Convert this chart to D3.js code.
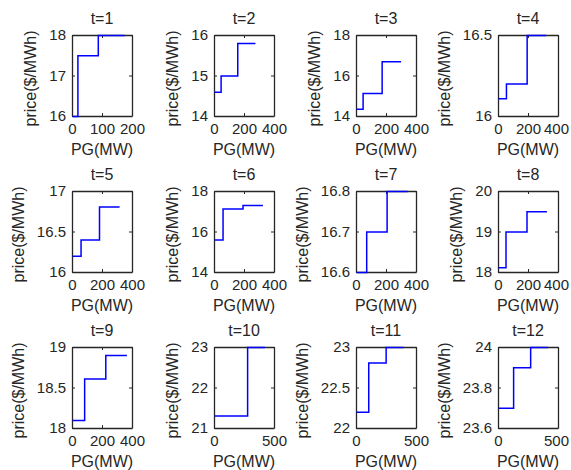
<!DOCTYPE html>
<meta charset="utf-8">
<style>
body { margin: 0; background: #fff; }
text { font-family: "Liberation Sans", Arial, sans-serif; fill: #262626; }
.tick text { font-size: 15px; }
.title, .xlab, .ylab { font-size: 16px; text-anchor: middle; }
.domain, .tick line { stroke: #262626; }
</style>
<svg width="571" height="470"></svg>
<script src="https://d3js.org/d3.v7.min.js"></script>
<script>

var titles = ["t=1", "t=2", "t=3", "t=4", "t=5", "t=6", "t=7", "t=8", "t=9", "t=10", "t=11", "t=12"];

var xMax = [200, 400, 400, 400, 400, 400, 400, 400, 400, 500, 500, 500];
var xTicks = [[0, 100, 200], [0, 200, 400], [0, 200, 400], [0, 200, 400],
              [0, 200, 400], [0, 200, 400], [0, 200, 400], [0, 200, 400],
              [0, 200, 400], [0, 500], [0, 500], [0, 500]];

var yRange = [[16, 18], [14, 16], [14, 18], [16, 16.5], [16, 17], [14, 18],
              [16.6, 16.8], [18, 20], [18, 19], [21, 23], [22, 23], [23.6, 24]];
var yTicks = [[16, 17, 18], [14, 15, 16], [14, 16, 18], [16, 16.5], [16, 16.5, 17], [14, 16, 18],
              [16.6, 16.7, 16.8], [18, 19, 20], [18, 18.5, 19], [21, 22, 23], [22, 22.5, 23], [23.6, 23.8, 24]];

// stair breakpoints: PG (MW) and price ($/MWh)
var pg = [[0, 18, 86, 174], [0, 44, 155, 273], [0, 44, 171, 297], [0, 53, 191, 318],
          [0, 57, 180, 314], [0, 57, 190, 323], [0, 68, 204, 341], [0, 50, 190, 323],
          [0, 81, 222, 363], [0, 276, 421], [0, 102, 247, 393], [0, 126, 268, 413]];
var price = [[16, 17.5, 18, 18], [14.6, 15, 15.8, 15.8], [14.36, 15.13, 16.7, 16.7], [16.11, 16.2, 16.5, 16.5],
             [16.2, 16.4, 16.81, 16.81], [15.6, 17.13, 17.31, 17.31], [16.6, 16.7, 16.8, 16.8], [18.12, 19, 19.5, 19.5],
             [18.1, 18.61, 18.9, 18.9], [21.31, 23, 23], [22.2, 22.81, 23, 23], [23.7, 23.9, 24, 24]];

var svg = d3.select("svg"),
    width = +svg.attr("width");

var w = 60, h = 81;
var colLeft = d3.scaleLinear().domain([0, 3]).range([72, 498]);
var rowTop = d3.scaleLinear().domain([0, 2]).range([35, 347]);

var fmt = d3.format("~g");

titles.forEach(function(t, i) {
  var left = Math.round(colLeft(i % 4)),
      top = Math.round(rowTop(Math.floor(i / 4)));
  var g = svg.append("g")
      .attr("transform", "translate(" + left + "," + top + ")");

  var x = d3.scaleLinear().domain([0, xMax[i]]).range([0, w]);
  var y = d3.scaleLinear().domain(yRange[i]).range([h, 0]);

  var xb = g.append("g")
      .attr("transform", "translate(0," + h + ")")
      .call(d3.axisBottom(x).tickValues(xTicks[i]).tickFormat(fmt).tickSizeInner(-3).tickSizeOuter(0).tickPadding(7));
  g.append("g")
      .call(d3.axisTop(x).tickValues(xTicks[i]).tickFormat("").tickSizeInner(-3).tickSizeOuter(0));
  var yl = g.append("g")
      .call(d3.axisLeft(y).tickValues(yTicks[i]).tickFormat(fmt).tickSizeInner(-3).tickSizeOuter(0).tickPadding(6));
  g.append("g")
      .attr("transform", "translate(" + w + ",0)")
      .call(d3.axisRight(y).tickValues(yTicks[i]).tickFormat("").tickSizeInner(-3).tickSizeOuter(0));

  g.selectAll(".domain").attr("stroke-width", 1.3);

  // keep the last x tick label inside the page
  xb.selectAll(".tick text").each(function() {
    var b = this.getBBox(), tr = this.parentNode.transform.baseVal.consolidate().matrix.e;
    var over = left + tr + b.x + b.width - (width - 2);
    if (over > 0) d3.select(this).attr("x", -over);
  });

  var labW = d3.max(yl.selectAll(".tick text").nodes(), function(n) { return n.getBBox().width; });

  var pts = pg[i].map(function(p, k) { return [p, price[i][k]]; });
  g.append("path")
      .datum(pts)
      .attr("fill", "none")
      .attr("stroke", "#0000ff")
      .attr("stroke-width", 1.5)
      .attr("d", d3.line().curve(d3.curveStepAfter)
        .x(function(d) { return x(d[0]) + 0.5; })
        .y(function(d) { return y(d[1]) + 0.5; }));

  g.append("text")
      .attr("class", "title")
      .attr("x", w / 2)
      .attr("y", -11)
      .text(t);

  g.append("text")
      .attr("class", "xlab")
      .attr("x", w / 2)
      .attr("y", h + 39)
      .text("PG(MW)");

  g.append("text")
      .attr("class", "ylab")
      .attr("transform", "translate(" + (-6 - labW - 13) + "," + (h / 2 + 3) + ") rotate(-90)")
      .text("price($/MWh)");
});

</script>
